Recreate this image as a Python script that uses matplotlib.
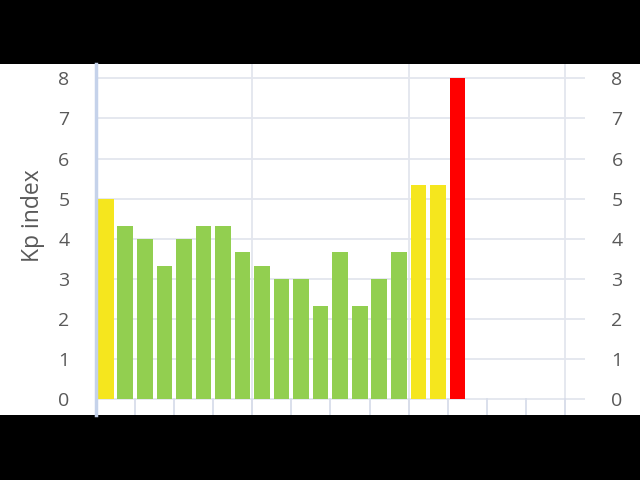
import matplotlib
matplotlib.use("Agg")
import matplotlib.pyplot as plt
from matplotlib.patches import Rectangle

kp_values = [5.0, 4.33, 4.0, 3.33, 4.0, 4.33, 4.33, 3.67, 3.33, 3.0, 3.0,
             2.33, 3.67, 2.33, 3.0, 3.67, 5.33, 5.33, 8.0]
bar_colors = ["#F5E61E"] + ["#92CF50"] * 15 + ["#F5E61E", "#F5E61E", "#FF0000"]
y_ticks = [0, 1, 2, 3, 4, 5, 6, 7, 8]

plt.rcParams['font.family'] = ['Open Sans', 'DejaVu Sans']
fig = plt.figure(figsize=(6.4, 4.8), dpi=100, facecolor="black")
fig.patches.append(Rectangle((0, 65 / 480), 1, (415 - 64) / 480, transform=fig.transFigure,
                             facecolor="white", edgecolor="none", zorder=-10))

ax = fig.add_axes([96 / 640, 65 / 480, (585 - 96) / 640, (415 - 64) / 480])
ax.set_zorder(5)
ax.set_facecolor("white")
ymin, ymax = -0.39, 8.357
ax.set_xlim(0, 25.03)
ax.set_ylim(ymin, ymax)

grid_c = "#E3E6EE"
for y in y_ticks:
    ax.axhline(y, color=grid_c, lw=1.3, zorder=1)
for x in [8, 16, 24]:
    ax.axvline(x, color=grid_c, lw=1.3, zorder=1)
for x in range(2, 25, 2):
    ax.plot([x, x], [ymin, 0], color="#D8DDEA", lw=1.3, zorder=1)

xs = [i + 0.5 for i in range(len(kp_values))]
ax.bar(xs, kp_values, width=0.8, color=bar_colors, zorder=2)

for s in ["top", "right", "bottom"]:
    ax.spines[s].set_visible(False)
ax.spines["left"].set_color("#C5D2EA")
ax.spines["left"].set_linewidth(2.5)
ax.spines["left"].set_zorder(3)

ax.set_xticks([])
ax.set_yticks(y_ticks)
ax.set_yticklabels([str(v) for v in y_ticks])
ax.tick_params(axis="y", length=0, pad=19, labelsize=14, labelcolor="#595959",
               labelleft=True, labelright=True)

fig.text(33 / 640, 1 - 216 / 480, "Kp index", rotation=90, ha="center", va="center",
         fontsize=16.5, color="#595959", zorder=6)

fig.savefig("out.png", dpi=100, facecolor="black")
